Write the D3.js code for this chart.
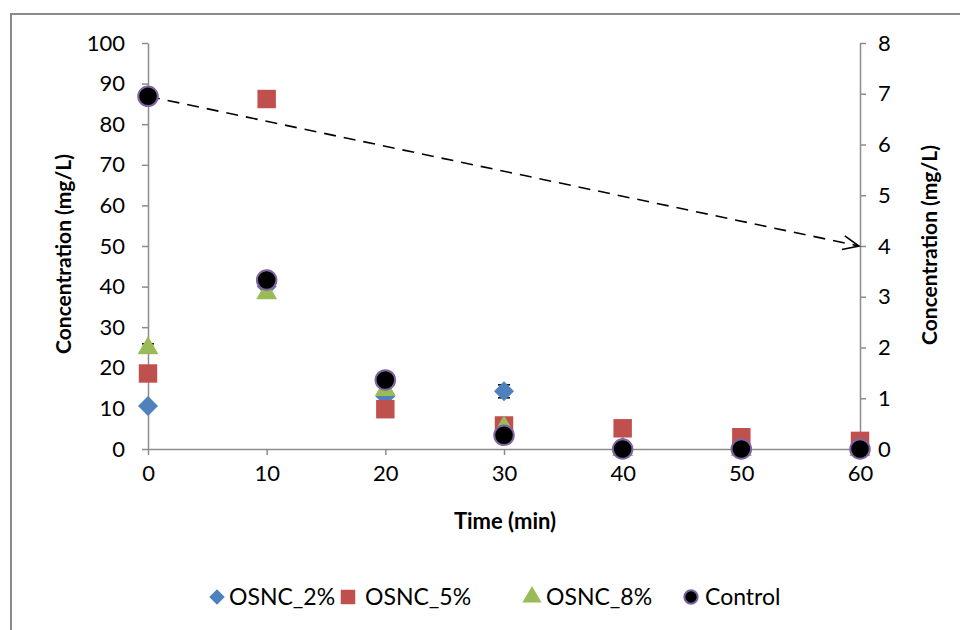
<!DOCTYPE html>
<html><head><meta charset="utf-8">
<script src="https://cdn.jsdelivr.net/npm/d3@7"></script>
<style>body{margin:0;background:#fff}svg{display:block}text{font-family:Lato,"Open Sans",sans-serif}</style>
</head><body><svg id="c" width="960" height="630"></svg>
<script>
const times = [0, 10, 20, 30, 40, 50, 60];
const osnc2 = [10.6, 40.0, 13.0, 14.2, 0.5, 0, 0];
const osnc2Err = [0, 0, 0, 1.6, 0, 0, 0];
const osnc5 = [18.6, 86.2, 9.8, 5.8, 5.1, 2.9, 2.0];
const osnc8 = [25.1, 38.6, 14.8, 5.6, 0, 0, 0];
const osnc8Err = [0.8, 0, 0, 0, 0, 0, 0];
const control = [6.95, 3.33, 1.36, 0.27, 0, 0, 0]; // secondary axis (mg/L)
const xTicks = [0, 10, 20, 30, 40, 50, 60];
const yLeftTicks = [0, 10, 20, 30, 40, 50, 60, 70, 80, 90, 100];
const yRightTicks = [0, 1, 2, 3, 4, 5, 6, 7, 8];
const arrowTarget = 4; // value on secondary axis at t=60
const legendNames = ["OSNC_2%", "OSNC_5%", "OSNC_8%", "Control"];

const svg = d3.select("#c");
const x = d3.scaleLinear().domain([0, 60]).range([148, 860]);
const yL = d3.scaleLinear().domain([0, 100]).range([449, 43]);
const yR = d3.scaleLinear().domain([0, 8]).range([449, 43]);
const grey = "#8c8c8c";
const C = {blue: "#4f81bd", red: "#c0504d", green: "#9bbb59", purple: "#8064a2"};

// outer frame
svg.append("rect").attr("x", 11).attr("y", 14).attr("width", 1000).attr("height", 700)
  .attr("fill", "none").attr("stroke", "#8a8a8a").attr("stroke-width", 2);

function styleAxis(g) {
  g.selectAll("path,line").attr("stroke", grey).attr("stroke-width", 1.5);
  g.selectAll("text").attr("font-size", 22).attr("fill", "#000").attr("font-family", "Lato,'Open Sans',sans-serif");
}
const gx = svg.append("g").attr("transform", "translate(0,449)")
  .call(d3.axisBottom(x).tickValues(xTicks).tickSize(6).tickSizeOuter(0).tickPadding(10).tickFormat(d3.format("d")));
styleAxis(gx);
const gl = svg.append("g").attr("transform", "translate(148,0)")
  .call(d3.axisLeft(yL).tickValues(yLeftTicks).tickSize(6).tickSizeOuter(0).tickPadding(17).tickFormat(d3.format("d")));
styleAxis(gl);
const gr = svg.append("g").attr("transform", "translate(860,0)")
  .call(d3.axisRight(yR).tickValues(yRightTicks).tickSize(6).tickSizeOuter(0).tickPadding(12).tickFormat(d3.format("d")));
styleAxis(gr);

// titles
svg.append("text").attr("x", 505).attr("y", 529).attr("text-anchor", "middle")
  .attr("font-size", 22).attr("font-weight", "bold").text("Time (min)");
svg.append("text").attr("transform", "translate(71,254) rotate(-90)").attr("text-anchor", "middle")
  .attr("font-size", 21).attr("font-weight", "bold").text("Concentration (mg/L)");
svg.append("text").attr("transform", "translate(937,245) rotate(-90)").attr("text-anchor", "middle")
  .attr("font-size", 21).attr("font-weight", "bold").text("Concentration (mg/L)");

// dashed arrow
const defs = svg.append("defs");
defs.append("marker").attr("id", "arr").attr("viewBox", "0 0 20 20").attr("refX", 18).attr("refY", 10)
  .attr("markerWidth", 20).attr("markerHeight", 20).attr("markerUnits", "userSpaceOnUse").attr("orient", "auto")
  .append("path").attr("d", "M2,3 L18,10 L2,17").attr("fill", "none").attr("stroke", "#000").attr("stroke-width", 1.6);
svg.append("line").attr("x1", x(times[0])).attr("y1", yR(control[0]))
  .attr("x2", x(60) - 1).attr("y2", yR(arrowTarget))
  .attr("stroke", "#000").attr("stroke-width", 1.6).attr("stroke-dasharray", "12,8")
  .attr("marker-end", "url(#arr)");

const plot = svg.append("g");
function errBars(vals, errs) {
  times.forEach((t, i) => {
    if (!errs[i]) return;
    const cx = x(t), y1 = yL(vals[i] - errs[i]), y2 = yL(vals[i] + errs[i]);
    plot.append("line").attr("x1", cx).attr("x2", cx).attr("y1", y1).attr("y2", y2).attr("stroke", "#000");
    [y1, y2].forEach(yy => plot.append("line").attr("x1", cx - 6).attr("x2", cx + 6).attr("y1", yy).attr("y2", yy).attr("stroke", "#000").attr("stroke-width", 1.5));
  });
}
errBars(osnc2, osnc2Err);
errBars(osnc8, osnc8Err);

const sym = {
  diamond: d3.symbol().type(d3.symbolSquare).size(200),
  square: d3.symbol().type(d3.symbolSquare).size(340),
  triangle: d3.symbol().type(d3.symbolTriangle).size(190),
  circle: d3.symbol().type(d3.symbolCircle).size(300)
};
plot.selectAll(".s2").data(times).join("path").attr("d", sym.diamond)
  .attr("transform", (d, i) => `translate(${x(d)},${yL(osnc2[i])}) rotate(45)`).attr("fill", C.blue);
plot.selectAll(".s5").data(times).join("path").attr("d", sym.square)
  .attr("transform", (d, i) => `translate(${x(d)},${yL(osnc5[i])})`).attr("fill", C.red);
plot.selectAll(".s8").data(times).join("path").attr("d", sym.triangle)
  .attr("transform", (d, i) => `translate(${x(d)},${yL(osnc8[i]) + 1})`).attr("fill", C.green);
plot.selectAll(".sc").data(times).join("path").attr("d", sym.circle)
  .attr("transform", (d, i) => `translate(${x(d)},${yR(control[i])})`).attr("fill", "#000")
  .attr("stroke", C.purple).attr("stroke-width", 2);

// legend
const lg = svg.append("g");
const legX = [217, 348, 532, 691];
const legTextX = [229, 365, 546, 705];
const legSym = [
  s => s.attr("d", d3.symbol().type(d3.symbolSquare).size(120)).attr("transform", "rotate(45)").attr("fill", C.blue),
  s => s.attr("d", d3.symbol().type(d3.symbolSquare).size(210)).attr("fill", C.red),
  s => s.attr("d", d3.symbol().type(d3.symbolTriangle).size(160)).attr("fill", C.green),
  s => s.attr("d", d3.symbol().type(d3.symbolCircle).size(140)).attr("fill", "#000").attr("stroke", C.purple).attr("stroke-width", 2)
];
legendNames.forEach((n, i) => {
  legSym[i](lg.append("g").attr("transform", `translate(${legX[i]},597)`).append("path"));
  lg.append("text").attr("x", legTextX[i]).attr("y", 605).attr("font-size", 23).text(n);
});
</script></body></html>
